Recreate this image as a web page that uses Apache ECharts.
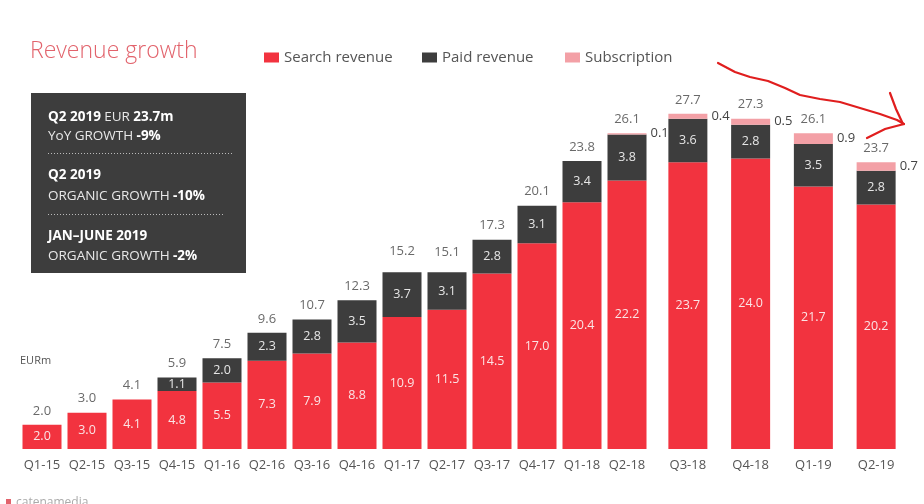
<!DOCTYPE html>
<html>
<head>
<meta charset="utf-8">
<script src="https://cdn.jsdelivr.net/npm/echarts@6/dist/echarts.min.js"></script>
<style>html,body{margin:0;padding:0;background:#fff}#c{width:924px;height:504px}</style>
</head>
<body>
<div id="c"></div>
<script>
const categories = ['Q1-15','Q2-15','Q3-15','Q4-15','Q1-16','Q2-16','Q3-16','Q4-16','Q1-17','Q2-17','Q3-17','Q4-17','Q1-18','Q2-18','Q3-18','Q4-18','Q1-19','Q2-19'];
const searchRevenue = [2.0,3.0,4.1,4.8,5.5,7.3,7.9,8.8,10.9,11.5,14.5,17.0,20.4,22.2,23.7,24.0,21.7,20.2];
const paidRevenue = [0,0,0,1.1,2.0,2.3,2.8,3.5,3.7,3.1,2.8,3.1,3.4,3.8,3.6,2.8,3.5,2.8];
const subscription = [0,0,0,0,0,0,0,0,0,0,0,0,0,0.1,0.4,0.5,0.9,0.7];
const totals = [2.0,3.0,4.1,5.9,7.5,9.6,10.7,12.3,15.2,15.1,17.3,20.1,23.8,26.1,27.7,27.3,26.1,23.7];

const SPLIT = 14;
const RED = '#f2333f', DARK = '#3d3d3d', PINK = '#f3a0a6';
const FONT = '"Open Sans", sans-serif';

const chart = echarts.init(document.getElementById('c'), null, {renderer:'canvas'});

function hideZero(p){ return p.value ? p.value.toFixed(1) : ''; }

function seriesFor(idx, from, to){
  const sl = a => a.slice(from, to);
  return [
    {name:'Search revenue', type:'bar', stack:'s'+idx, xAxisIndex:idx, yAxisIndex:idx, barWidth:39,
     data: sl(searchRevenue), itemStyle:{color:RED},
     label:{show:true, position:'inside', color:'#fbe4e5', fontSize:12.5, fontFamily:FONT, formatter:hideZero}},
    {name:'Paid revenue', type:'bar', stack:'s'+idx, xAxisIndex:idx, yAxisIndex:idx, barWidth:39,
     data: sl(paidRevenue), itemStyle:{color:DARK},
     label:{show:true, position:'inside', color:'#e6e6e6', fontSize:12.5, fontFamily:FONT, formatter:hideZero}},
    {name:'Subscription', type:'bar', stack:'s'+idx, xAxisIndex:idx, yAxisIndex:idx, barWidth:39,
     data: sl(subscription), itemStyle:{color:PINK},
     label:{show:true, position:'right', distance:4, color:'#444', fontSize:13, fontFamily:FONT, formatter:hideZero}},
    {name:'Total', type:'scatter', xAxisIndex:idx, yAxisIndex:idx, symbolSize:1,
     itemStyle:{color:'rgba(0,0,0,0)'}, data: sl(totals), silent:true,
     label:{show:true, position:'top', distance:7, color:'#444', fontSize:13, fontFamily:FONT, formatter:p=>p.value.toFixed(1)}}
  ];
}

const xAxisCommon = {type:'category', axisLine:{show:false}, axisTick:{show:false},
  axisLabel:{color:'#555', fontSize:13, fontFamily:FONT, margin:10, interval:0}};
const yAxisCommon = {type:'value', min:0, max:30, show:false, splitLine:{show:false}};

const legendCommon = {top:45, itemWidth:15, itemHeight:10, icon:'rect',
  textStyle:{color:'#555', fontSize:15, fontFamily:FONT}};

const B = {fill:'#fff', fontSize:13.5, fontWeight:'bold', fontFamily:FONT};
const R = {fill:'#e8e8e8', fontSize:13.5, fontFamily:FONT};

const option = {
  animation:false,
  grid:[
    {left:19.5, width:630, top:86, bottom:55},
    {left:656.5, width:251, top:86, bottom:55}
  ],
  xAxis:[
    Object.assign({gridIndex:0, data:categories.slice(0,SPLIT)}, xAxisCommon),
    Object.assign({gridIndex:1, data:categories.slice(SPLIT)}, xAxisCommon)
  ],
  yAxis:[
    Object.assign({gridIndex:0}, yAxisCommon),
    Object.assign({gridIndex:1}, yAxisCommon)
  ],
  legend:[
    Object.assign({left:259, data:['Search revenue']}, legendCommon),
    Object.assign({left:417, data:['Paid revenue']}, legendCommon),
    Object.assign({left:560, data:['Subscription']}, legendCommon)
  ],
  series: seriesFor(0,0,SPLIT).concat(seriesFor(1,SPLIT,categories.length)),
  graphic:[
    {type:'text', left:30, top:40, style:{text:'Revenue growth', fill:'#e2636c', fontSize:23, fontWeight:300, fontFamily:FONT}},
    {type:'text', left:20, top:355, style:{text:'EURm', fill:'#555', fontSize:11, fontFamily:FONT}},
    {type:'rect', shape:{x:31, y:93, width:215, height:180}, style:{fill:'#3d3d3d'}},
    {type:'text', x:48, y:110, style:{text:'{b|Q2 2019} {r|EUR} {b|23.7m}', rich:{b:B, r:R}}},
    {type:'text', x:48, y:129, style:{text:'{r|YoY GROWTH} {b|-9%}', rich:{b:B, r:R}}},
    {type:'line', shape:{x1:48, y1:153.5, x2:232, y2:153.5}, style:{stroke:'#bbb', lineWidth:1, lineDash:[1,2]}},
    {type:'text', x:48, y:168, style:{text:'{b|Q2 2019}', rich:{b:B}}},
    {type:'text', x:48, y:189, style:{text:'{r|ORGANIC GROWTH} {b|-10%}', rich:{b:B, r:R}}},
    {type:'line', shape:{x1:48, y1:214.5, x2:225, y2:214.5}, style:{stroke:'#bbb', lineWidth:1, lineDash:[1,2]}},
    {type:'text', x:48, y:229, style:{text:'{b|JAN–JUNE 2019}', rich:{b:B}}},
    {type:'text', x:48, y:249, style:{text:'{r|ORGANIC GROWTH} {b|-2%}', rich:{b:B, r:R}}},
    {type:'polyline', shape:{points:[[718,63],[735,72],[750,77],[768,81],[785,88],[800,95],[820,99],[840,102],[860,108],[880,114],[897,120],[904,124]]},
     style:{stroke:'#e01e1e', lineWidth:2.2, fill:null, lineJoin:'round', lineCap:'round'}},
    {type:'polyline', shape:{points:[[890,93],[896,109],[903,124]]}, style:{stroke:'#e01e1e', lineWidth:2.2, fill:null, lineCap:'round'}},
    {type:'polyline', shape:{points:[[867,138],[885,129],[904,124]]}, style:{stroke:'#e01e1e', lineWidth:2.2, fill:null, lineCap:'round'}},
    {type:'text', left:16, top:497, style:{text:'catenamedia', fill:'#aaa', fontSize:12, fontFamily:FONT}},
    {type:'rect', shape:{x:6, y:499, width:5, height:5}, style:{fill:'#e2636c'}}
  ]
};
chart.setOption(option);
</script>
</body>
</html>
